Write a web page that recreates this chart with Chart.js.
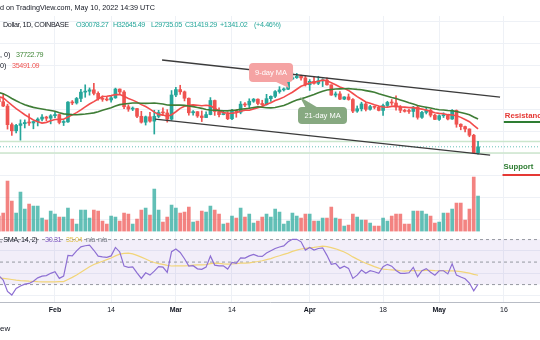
<!DOCTYPE html>
<html><head><meta charset="utf-8">
<script src="https://cdn.jsdelivr.net/npm/chart.js@4.4.1/dist/chart.umd.min.js"></script>
<style>
html,body{margin:0;padding:0;background:#fff;}
#wrap{position:relative;width:540px;height:340px;overflow:hidden;font-family:"Liberation Sans",Arial,sans-serif;}
canvas{position:absolute;left:0;top:0;}
.t{position:absolute;white-space:nowrap;font-size:7.2px;line-height:8px;color:#131722;}
.n{letter-spacing:-0.35px;}
.up{color:#26a69a;}
</style></head><body>
<div id="wrap">
<canvas id="c" width="540" height="340"></canvas>
<div class="t" style="left:0;top:4px;">d on TradingView.com, May 10, 2022 14:39 UTC</div>
<div class="t n" style="left:3px;top:21px;">Dollar, 1D, COINBASE</div>
<div class="t n up" style="left:76px;top:21px;">O30078.27</div>
<div class="t n up" style="left:113px;top:21px;">H32645.49</div>
<div class="t n up" style="left:151px;top:21px;">L29735.05</div>
<div class="t n up" style="left:185px;top:21px;">C31419.29</div>
<div class="t n up" style="left:220px;top:21px;">+1341.02</div>
<div class="t n up" style="left:254px;top:21px;">(+4.46%)</div>
<div class="t" style="left:0;top:51px;">, 0)</div>
<div class="t n" style="left:16px;top:51px;color:#43883a;">37722.79</div>
<div class="t" style="left:0;top:62px;">0)</div>
<div class="t n" style="left:12px;top:62px;color:#ef5350;">35491.09</div>
<div class="t n" style="left:0;top:236px;">, SMA, 14, 2)</div>
<div class="t n" style="left:45px;top:236px;color:#7e57c2;">30.31</div>
<div class="t n" style="left:66px;top:236px;color:#e0bf4a;">35.04</div>
<div class="t n" style="left:86px;top:236px;color:#787b86;">n/a</div>
<div class="t n" style="left:98px;top:236px;color:#787b86;">n/a</div>
<div class="t" style="left:0;top:325px;font-size:8px;">ew</div>
</div>
<script>
// ---- data (Bitcoin / US Dollar, 1D, Coinbase) ----
const firstDate = '2022-01-19';
const opens = [42350,41660,40680,36450,35060,36280,36660,36950,36830,37160,37710,38170,37920,
38480,38740,36950,37080,41570,41380,42400,43840,44040,44360,43560,42390,42200,42060,42540,44540,43870,40520,39990,40110,38350,37010,38240,37250,38330,39210,39110,37700,
43190,44420,43910,42450,39150,39400,38420,38060,38740,41940,39440,38730,38810,37790,39670,39280,41110,40920,41770,42240,41260,41000,42360,42890,43960,44350,44500,46820,47130,47430,47070,
45520,46290,45830,46410,46580,45500,43170,43440,42250,42750,42160,39530,40070,41150,39940,40550,40390,39680,40800,41500,41370,40480,39710,39470,39450,40430,38110,39240,39740,38600,
37640,38470,38530,37730,39690,36550,36010,35470,34040,30078.27];
const highs = [42580,43500,41100,36830,36500,37550,37540,38920,37230,38000,38720,38360,38740,
39250,38830,37390,41710,41930,42640,44500,45500,44800,45820,43930,43000,42740,42870,44750,44570,44180,40960,40470,40150,39480,38410,39260,39720,39700,40300,39860,44200,
44950,45400,44100,42520,39640,39420,39560,39370,42600,42050,40250,39490,39300,39930,39870,41700,41470,42330,42400,42300,42000,43340,42980,44200,45080,44800,46920,48190,48100,47700,47590,
46700,47200,47440,46880,47100,45500,43890,43950,42800,43420,42400,40700,41550,41500,40860,40700,40600,41120,41760,42170,42980,40800,39990,39950,40620,40800,39470,40400,39930,38800,
38660,39150,38640,39900,39800,36650,36130,35500,34260,32645.49];
const lows = [41150,40550,35440,34010,34600,32930,35700,36260,35510,36160,37300,37350,36630,
38010,36620,36250,36980,40990,41120,41670,42670,43150,43200,42010,41750,41860,41570,42430,43330,40070,39480,39640,38020,36800,36360,37040,34320,38010,38570,37020,37450,
42820,43330,41840,38600,38600,38090,37150,38020,38680,38550,38230,38680,37580,37570,38130,38910,40520,40140,41520,40920,40480,40880,41750,42580,43600,44080,44420,46680,46950,46560,45220,
44230,45650,45540,45100,45420,43100,42750,42110,42120,42000,39200,39250,39560,39560,39770,40030,39570,38540,40570,40850,39760,39180,39300,39000,38200,37700,37870,38880,38200,37590,
37400,38070,37520,37620,35860,35280,34780,33700,30030,29735.05];
const closes = [41660,40680,36450,35060,36280,36660,36950,36830,37160,37710,38170,37920,38480,
38740,36950,37080,41570,41380,42400,43840,44040,44360,43560,42390,42200,42060,42540,44540,43870,40520,39990,40110,38350,37010,38240,37250,38330,39210,39110,37700,43190,
44420,43910,42450,39150,39400,38420,38060,38740,41940,39440,38730,38810,37790,39670,39280,41110,40920,41770,42240,41260,41000,42360,42890,43960,44350,44500,46820,47130,47430,47070,45520,
46290,45830,46410,46580,45500,43170,43440,42250,42750,42160,39530,40070,41150,39940,40550,40390,39680,40800,41500,41370,40480,39710,39470,39450,40430,38110,39240,39740,38600,37640,
38470,38530,37730,39690,36550,36010,35470,34040,30080,31419.29];
const volumes = [15000,18000,50000,30000,18000,39000,22000,27000,25000,25000,13000,11000,20000,
17000,14000,14000,23000,12000,7000,21000,21000,13000,21000,20000,10000,7000,15000,14000,10000,18000,17000,7000,12000,21000,23000,16000,42000,21000,9000,14000,26000,
23000,18000,19000,24000,9000,10000,20000,19000,25000,21000,17000,7000,8000,15000,13000,23000,14000,17000,8000,10000,14000,17000,14000,22000,19000,7000,10000,18000,15000,13000,17000,
17000,10000,10000,13000,13000,24000,13000,12000,5000,6000,17000,14000,11000,11000,8000,5000,5000,13000,10000,15000,17000,17000,7000,7000,20000,20000,20000,17000,15000,8000,
9000,18000,18000,22000,28000,28000,11000,22000,54000,35000];
const ma9 = [42769,42540,41710,40873,40116,39391,38708,38106,37526,37087,36808,36971,37351,
37624,37657,37671,38198,38667,39188,39818,40498,41151,41687,42291,42860,42914,43043,43281,43284,42893,42408,42024,41576,40999,40574,39987,39297,38779,38622,38368,38710,
39384,40151,40619,40830,40949,40861,40744,40860,40721,40168,39592,39188,39037,39067,39162,39501,39743,39724,40036,40317,40560,41068,41426,41946,42306,42703,43264,43808,44493,45168,45519,
45897,46104,46333,46564,46418,45978,45534,44999,44691,44232,43532,42828,42224,41607,41316,40977,40691,40474,40401,40606,40651,40491,40439,40317,40321,40147,39973,39778,39470,39154,
39017,38912,38721,38639,38466,38107,37632,37126,36286,35491.09];
const ma21 = [43767,43460,42995,42391,41867,41400,40977,40663,40381,40197,40027,39840,39680,
39489,39157,38895,38822,38736,38703,38779,38858,38986,39123,39406,39746,40021,40302,40663,40998,41158,41267,41359,41380,41310,41286,41300,41360,41247,41139,40915,40884,
40902,40881,40828,40674,40540,40367,40154,39878,39786,39734,39674,39612,39586,39712,39762,39946,40069,40191,40340,40510,40405,40307,40259,40330,40578,40821,41221,41653,42067,42311,42600,
42960,43295,43705,44034,44330,44429,44549,44571,44596,44639,44569,44460,44377,44185,44004,43809,43469,43167,42885,42613,42373,42060,41757,41426,41133,40781,40594,40418,40244,40000,
39825,39777,39666,39596,39435,39219,38984,38716,38205,37722.79];
const rsi = [38,34,24,20.7,26.6,28.7,30.4,31,33,36,37.5,38,40,
41.4,35.5,37.6,56,55.6,60,63.5,64.5,65.1,60.5,55.3,54.7,54.2,55.5,63,59,46.4,45.3,45.8,40.5,35.5,40.5,38.4,42,45.9,45.5,40.8,59.2,
61.6,58.5,53,46.4,46.8,44,43.5,45.5,55.3,47.3,46.7,46.7,43.8,49.7,48.8,53.8,53.5,55.5,56.8,55.3,55,58,60,62.1,63.4,64.4,68,70.2,70.3,68,60.7,
63,60.7,62.1,62.7,56,48,48.8,44.4,46.4,44.4,35.5,38.4,42.9,40,42.3,41.4,40,45.9,48,46.4,42.5,40,40,40.5,45.3,37,42.3,44.2,41,38.4,
42.3,42.3,39.5,48.5,38.4,36.7,35.2,31.4,24.5,30.31];
const rsiMa = [36,35.5,35,34.5,34,33.6,33.3,33,32.8,32.6,32.5,32.4,32.4,
32.5,32.6,32.7,34.5,36.4,38.5,40.9,43.4,45.9,47.8,49.3,50.7,52.2,53.6,55.5,57,57.7,58,57.3,56,54.4,52.8,50.9,49.6,48.6,47.9,47,46.5,
46.6,46.6,46.6,46.8,47.3,47.5,47.6,47.8,48.6,49.1,48.8,48.4,48.2,48.3,48.5,49,49.1,49.3,49.9,50.5,51.2,52.2,53.1,54.5,55.6,56.8,58,59.5,60.6,61.6,62.1,
62.6,63,63.6,64.2,63.8,62.9,61.8,60.4,59,57,54.6,52.6,50.8,48.9,47.5,46,44.6,43.8,43.4,43.1,42.8,42.3,42,42.3,42.5,42.3,42.4,42.6,42.6,42.4,
42.3,42.3,42.2,42.3,42,41.5,40.9,40.2,39.1,38.3];
const tickDates = ['2022-02-01','2022-02-14','2022-03-01','2022-03-14','2022-04-01','2022-04-18','2022-05-01','2022-05-16'];
const tickLabels = ['Feb','14','Mar','14','Apr','18','May','16'];
const priceGrid = [15000,20000,25000,30000,35000,40000,45000,50000,55000,60000];
const rsiGrid = [20,40,60];
const rsiLevels = [70,50,30];
const hLevels = [32645.49, 30000];
const lastPrice = 31419.29;
// trend channel (day offset from Feb 1, price)
const channelUpper = [[24.8, 51136], [103.1, 42727]];
const channelLower = [[23.2, 37727], [100.8, 29545]];

// ---- helpers ----
const DAY = 86400000, BASE = Date.UTC(2022,1,1);
const dayOf = s => (Date.parse(s + 'T00:00:00Z') - BASE) / DAY;
const d0 = dayOf(firstDate);
const days = closes.map((_, i) => d0 + i);
const tickDays = tickDates.map(dayOf);
const X_MIN = -12.74, X_MAX = 112.35;
const UP = '#26a69a', DN = '#ef5350';
const isUp = i => closes[i] >= opens[i];
const FONT = '"Liberation Sans", Arial, sans-serif';

const hLine = (y, axis, color, w, dash) => ({
  type: 'line', yAxisID: axis, data: [{x: X_MIN, y}, {x: X_MAX, y}],
  borderColor: color, borderWidth: w, borderDash: dash || [], pointRadius: 0, fill: false, order: 7
});

const callouts = [
  {text: '9-day MA', at: [50.05, 48300], w: 44, h: 19, color: '#f5a3a3', tip: [54.2, 44770], edge: 'bottom', b0: 4, b1: 16},
  {text: '21-day MA', at: [61.97, 38520], w: 49, h: 17, color: '#87a981', tip: [56.75, 42730], edge: 'top', b0: -17, b1: -5}
];
const levelTags = [
  {text: 'Resistance', day: 104.2, textPrice: 38400, linePrice: 37045, textColor: '#e53935', lineColor: '#2e7d32'},
  {text: 'Support', day: 103.9, textPrice: 26800, linePrice: 25000, textColor: '#2e7d32', lineColor: '#e53935'}
];

const annot = {
  id: 'annot',
  afterDatasetsDraw(chart) {
    const {ctx} = chart, x = chart.scales.x, y = chart.scales.y;
    ctx.save();
    callouts.forEach(c => {
      const cx = x.getPixelForValue(c.at[0]), cy = y.getPixelForValue(c.at[1]);
      const tx = x.getPixelForValue(c.tip[0]), ty = y.getPixelForValue(c.tip[1]);
      const l = cx - c.w / 2, t = cy - c.h / 2, r = 4;
      ctx.fillStyle = c.color;
      ctx.beginPath();
      ctx.moveTo(l + r, t); ctx.lineTo(l + c.w - r, t); ctx.quadraticCurveTo(l + c.w, t, l + c.w, t + r);
      ctx.lineTo(l + c.w, t + c.h - r); ctx.quadraticCurveTo(l + c.w, t + c.h, l + c.w - r, t + c.h);
      ctx.lineTo(l + r, t + c.h); ctx.quadraticCurveTo(l, t + c.h, l, t + c.h - r);
      ctx.lineTo(l, t + r); ctx.quadraticCurveTo(l, t, l + r, t);
      ctx.fill();
      const ey = c.edge === 'top' ? t + 0.5 : t + c.h - 0.5;
      ctx.beginPath();
      ctx.moveTo(cx + c.b0, ey); ctx.lineTo(tx, ty); ctx.lineTo(cx + c.b1, ey); ctx.closePath();
      ctx.fill();
      ctx.fillStyle = '#ffffff';
      ctx.font = '7.5px ' + FONT;
      ctx.textAlign = 'center'; ctx.textBaseline = 'middle';
      ctx.fillText(c.text, cx, cy + 0.5);
    });
    levelTags.forEach(g => {
      const lx = x.getPixelForValue(g.day);
      ctx.font = 'bold 7.8px ' + FONT;
      ctx.textAlign = 'left'; ctx.textBaseline = 'middle';
      ctx.fillStyle = g.textColor;
      ctx.fillText(g.text, lx, y.getPixelForValue(g.textPrice));
      ctx.strokeStyle = g.lineColor; ctx.lineWidth = 2;
      const ly = y.getPixelForValue(g.linePrice);
      ctx.beginPath(); ctx.moveTo(lx - 1, ly); ctx.lineTo(chart.width + 5, ly); ctx.stroke();
    });
    ctx.restore();
  }
};

const datasets = [
  {type: 'line', yAxisID: 'yr', data: [{x: X_MIN, y: rsiLevels[0]}, {x: X_MAX, y: rsiLevels[0]}],
   borderWidth: 0, pointRadius: 0, fill: {value: rsiLevels[2]}, backgroundColor: 'rgba(126,87,194,0.10)', order: 12},
  ...rsiLevels.map(v => hLine(v, 'yr', '#9598a1', 1, [3, 3])),
  {type: 'line', yAxisID: 'yr', data: days.map((d, i) => ({x: d, y: rsiMa[i]})),
   borderColor: '#f2d579', borderWidth: 1.2, pointRadius: 0, fill: false, order: 2},
  {type: 'line', yAxisID: 'yr', data: days.map((d, i) => ({x: d, y: rsi[i]})),
   borderColor: '#8d6fd3', borderWidth: 1.2, pointRadius: 0, fill: false, order: 1},
  {type: 'bar', yAxisID: 'yv', data: days.map((d, i) => ({x: d, y: volumes[i]})),
   backgroundColor: days.map((_, i) => isUp(i) ? 'rgba(38,166,154,0.72)' : 'rgba(239,83,80,0.72)'),
   barThickness: 3, grouped: false, order: 9},
  ...hLevels.map(v => hLine(v, 'y', '#cce6cd', 1.5)),
  hLine(lastPrice, 'y', 'rgba(38,166,154,0.7)', 1, [1, 2]),
  {type: 'bar', yAxisID: 'y', data: days.map((d, i) => ({x: d, y: [lows[i], highs[i]]})),
   backgroundColor: days.map((_, i) => isUp(i) ? UP : DN), barThickness: 1, grouped: false, order: 4},
  {type: 'bar', yAxisID: 'y', data: days.map((d, i) => ({x: d, y: [opens[i], closes[i]]})),
   backgroundColor: days.map((_, i) => isUp(i) ? UP : DN), barThickness: 3, minBarLength: 1, grouped: false, order: 3},
  {type: 'line', yAxisID: 'y', data: days.map((d, i) => ({x: d, y: ma21[i]})),
   borderColor: '#3f7d36', borderWidth: 1.6, pointRadius: 0, fill: false, order: 2},
  {type: 'line', yAxisID: 'y', data: days.map((d, i) => ({x: d, y: ma9[i]})),
   borderColor: '#f24c4c', borderWidth: 1.6, pointRadius: 0, fill: false, order: 2},
  {type: 'line', yAxisID: 'y', data: channelUpper.map(p => ({x: p[0], y: p[1]})),
   borderColor: '#3b3b3b', borderWidth: 1.3, pointRadius: 0, fill: false, order: 1},
  {type: 'line', yAxisID: 'y', data: channelLower.map(p => ({x: p[0], y: p[1]})),
   borderColor: '#3b3b3b', borderWidth: 1.3, pointRadius: 0, fill: false, order: 1}
];

const GRID = '#eef1f6';
new Chart(document.getElementById('c'), {
  type: 'bar',
  data: {datasets},
  options: {
    responsive: false, animation: false, events: [],
    layout: {padding: {top: 16, bottom: 21.5, left: 0, right: 0}},
    plugins: {legend: {display: false}, tooltip: {enabled: false}},
    scales: {
      x: {type: 'linear', min: X_MIN, max: X_MAX, offset: false,
        grid: {color: GRID, drawTicks: false, offset: false},
        border: {display: true, color: '#b8bcc5'},
        afterBuildTicks: s => { s.ticks = tickDays.map(v => ({value: v})); },
        ticks: {autoSkip: false, maxRotation: 0, padding: 4, color: '#131722',
          font: c => ({family: FONT, size: 7, weight: (c.tick && /^[A-Z]/.test(tickLabels[tickDays.indexOf(c.tick.value)] || '')) ? 'bold' : 'normal'}),
          callback: v => tickLabels[tickDays.indexOf(v)] || ''}},
      y: {type: 'linear', position: 'left', min: -3863.6, max: 61136.4,
        grid: {color: GRID, drawTicks: false}, border: {display: false}, ticks: {display: false},
        afterBuildTicks: s => { s.ticks = priceGrid.map(v => ({value: v})); },
        afterFit: s => { s.width = 0; }},
      yr: {type: 'linear', position: 'left', min: 14.44, max: 268.67,
        grid: {color: GRID, drawTicks: false}, border: {display: false}, ticks: {display: false},
        afterBuildTicks: s => { s.ticks = rsiGrid.map(v => ({value: v})); },
        afterFit: s => { s.width = 0; }},
      yv: {type: 'linear', display: false, min: -71000, max: 215000}
    }
  },
  plugins: [annot]
});
</script>
</body></html>
